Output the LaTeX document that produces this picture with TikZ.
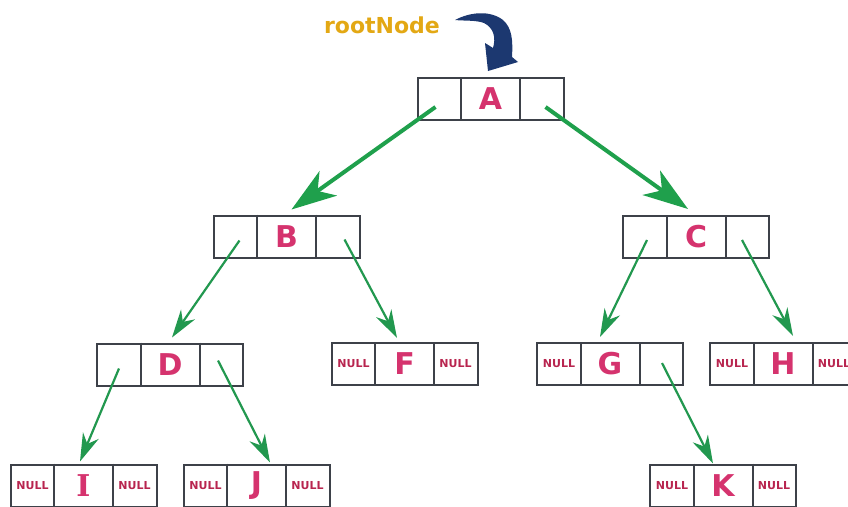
\documentclass[tikz,border=0pt]{standalone}
\usepackage{fontspec}
\setmainfont{DejaVu Sans}
\newfontfamily\serifI{DejaVu Serif}
\usetikzlibrary{arrows.meta}
\definecolor{boxgray}{HTML}{3D4149}
\definecolor{pinkl}{HTML}{D5336E}
\definecolor{nullc}{HTML}{B8254F}
\definecolor{grn}{HTML}{1FA04C}
\definecolor{grn2}{HTML}{22984F}
\definecolor{navyb}{HTML}{1C3870}
\definecolor{goldt}{HTML}{E3A814}
\tikzset{
 box/.style={draw=boxgray, line width=2pt, minimum width=146pt, minimum height=42pt, inner sep=0pt},
 divline/.style={draw=boxgray, line width=2pt},
 letter/.style={text=pinkl, font=\fontsize{30}{30}\selectfont\bfseries, inner sep=0pt},
 nulltxt/.style={text=nullc, font=\fontsize{11}{11}\selectfont\bfseries, inner sep=0pt},
 rootlbl/.style={text=goldt, font=\fontsize{22}{22}\selectfont\bfseries, inner sep=0pt},
 big/.style={draw=grn, line width=4pt, -{Stealth[length=45pt,width=30pt,inset=13pt]}},
 small/.style={draw=grn2, line width=2.2pt, -{Stealth[length=28pt,width=17pt,inset=9pt]}},
}
\newcommand{\bnode}[6]{%
  \node[box] (#1) at (#2,#3) {};
  \draw[divline] ([xshift=-29.5pt]#1.north) -- ([xshift=-29.5pt]#1.south);
  \draw[divline] ([xshift=29.5pt]#1.north) -- ([xshift=29.5pt]#1.south);
  \node[letter] (#1-t) at (#1.center) {#4};
  \node[nulltxt] (#1-nl) at ([xshift=-51pt]#1.center) {#5};
  \node[nulltxt] (#1-nr) at ([xshift=51pt]#1.center) {#6};
  \coordinate (#1-l) at ([xshift=-51pt]#1.center);
  \coordinate (#1-r) at ([xshift=51pt]#1.center);
}
\begin{document}
\begin{tikzpicture}[x=1pt,y=-1pt]
\useasboundingbox (0,0) rectangle (848,506);
\fill[white] (0,0) rectangle (848,506);
\clip (0,0) rectangle (848,506);
% root label and curved arrow
\node[rootlbl, anchor=base] (root) at (382,33) {rootNode};
\fill[navyb] (455,20) .. controls (470,12) and (490,10) .. (503,20) .. controls (512,28) and (513,40) .. (512,57) -- (518,62) -- (488,71) -- (485,43) -- (493,48) .. controls (496,38) and (494,28) .. (484,23) .. controls (476,20) and (465,21) .. (455,20) -- cycle;
% nodes
\bnode{A}{490.5}{99}{A}{}{}
\bnode{B}{286.5}{236.5}{B}{}{}
\bnode{C}{696}{237}{C}{}{}
\bnode{D}{170}{364.5}{D}{}{}
\bnode{F}{404.5}{364}{F}{NULL}{NULL}
\bnode{G}{610}{364}{G}{NULL}{}
\bnode{H}{783}{364}{H}{NULL}{NULL}
\bnode{I}{83.5}{485.5}{\serifI I}{NULL}{NULL}
\bnode{J}{256.5}{485.5}{J}{NULL}{NULL}
\bnode{K}{723}{485.5}{K}{NULL}{NULL}
% connectors
\draw[big] ([xshift=-4pt,yshift=-8pt]A-l) -- ([xshift=5pt,yshift=5pt]B.north);
\draw[big] ([xshift=4pt,yshift=-8pt]A-r) -- ([xshift=-8pt,yshift=6pt]C.north);
\draw[small] ([xshift=4pt,yshift=-4pt]B-l) -- ([xshift=2pt,yshift=5pt]D.north);
\draw[small] ([xshift=7pt,yshift=-3pt]B-r) -- ([xshift=-7.5pt,yshift=4pt]F.north);
\draw[small] ([xshift=0pt,yshift=-4pt]D-l) -- ([xshift=-3.5pt,yshift=2pt]I.north);
\draw[small] ([xshift=-3pt,yshift=4pt]D-r) -- ([xshift=13.5pt,yshift=1pt]J.north);
\draw[small] ([xshift=2pt,yshift=-3pt]C-l) -- ([xshift=-10pt,yshift=5pt]G.north);
\draw[small] ([xshift=-5pt,yshift=-3pt]C-r) -- ([xshift=10pt,yshift=6pt]H.north);
\draw[small] ([xshift=1pt,yshift=1pt]G-r) -- ([xshift=-10pt,yshift=0pt]K.north);
\end{tikzpicture}
\end{document}
